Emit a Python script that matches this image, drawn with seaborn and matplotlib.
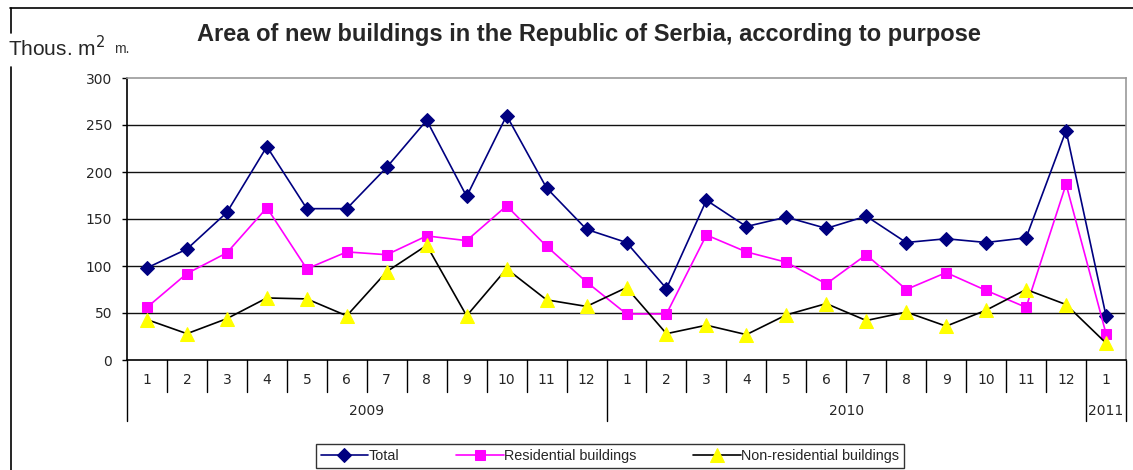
import numpy as np
import pandas as pd
import matplotlib
matplotlib.use("Agg")
import matplotlib.pyplot as plt
from matplotlib.lines import Line2D
import seaborn as sns

months = ["1", "2", "3", "4", "5", "6", "7", "8", "9", "10", "11", "12",
          "1", "2", "3", "4", "5", "6", "7", "8", "9", "10", "11", "12", "1"]
years = ["2009", "2010", "2011"]
year_spans = [12, 12, 1]

total = [98, 118, 157, 227, 161, 161, 205, 255, 174, 260, 183, 139,
         125, 76, 170, 142, 152, 140, 153, 125, 129, 125, 130, 244, 47]
residential = [56, 92, 114, 162, 97, 115, 112, 132, 127, 164, 121, 83,
               49, 49, 133, 115, 104, 81, 112, 75, 93, 74, 56, 187, 28]
non_residential = [43, 28, 44, 66, 65, 47, 94, 122, 47, 97, 64, 57,
                   77, 28, 37, 27, 48, 60, 42, 51, 36, 53, 75, 59, 18]

series_names = ["Total", "Residential buildings", "Non-residential buildings"]
y_ticks = [0, 50, 100, 150, 200, 250, 300]

sns.set_theme(style="white")
plt.rcParams["font.family"] = ["Liberation Sans", "DejaVu Sans"]
tick_font = ["DejaVu Sans"]

W, H = 1133, 470
fig = plt.figure(figsize=(W / 100, H / 100), dpi=100)
ax = fig.add_axes([127 / W, 1 - 360 / H, (1126 - 127) / W, 282 / H])

x = np.arange(len(months))
styles = [
    dict(color="#000080", marker="D", markersize=7, markerfacecolor="#000080", markeredgecolor="#000080"),
    dict(color="#FF00FF", marker="s", markersize=7.5, markerfacecolor="#FF00FF", markeredgecolor="#FF00FF"),
    dict(color="#000000", marker="^", markersize=9.5, markerfacecolor="#FFFF00", markeredgecolor="#FFFF00"),
]
for vals, name, st in zip([total, residential, non_residential], series_names, styles):
    sns.lineplot(x=x, y=vals, ax=ax, label=name, linewidth=1.2, zorder=3, **st)

ax.set_xlim(-0.5, len(months) - 0.5)
ax.set_ylim(0, 300)
ax.set_yticks(y_ticks)
ax.set_yticklabels([str(v) for v in y_ticks], fontsize=10, family=tick_font)
ax.tick_params(axis="y", direction="out", length=3.6, width=1, color="black", pad=7, left=True)
for v in y_ticks[1:-1]:
    ax.axhline(v, color="#111111", linewidth=1.0, zorder=1)

for side in ["top", "right"]:
    ax.spines[side].set_color("#999999")
    ax.spines[side].set_linewidth(1.2)
ax.spines["left"].set_color("black")
ax.spines["left"].set_linewidth(1.2)
ax.spines["bottom"].set_color("black")
ax.spines["bottom"].set_linewidth(1.2)

ax.set_xticks(x)
ax.set_xticklabels([])
ax.tick_params(axis="x", length=0)
ax.set_xlabel("")
ax.set_ylabel("")

trans = ax.get_xaxis_transform()
month_sep = 32 / 282
year_sep = 61 / 282
year_bounds = np.concatenate([[0], np.cumsum(year_spans)])
for i in range(len(months) + 1):
    xs = i - 0.5
    depth = year_sep if i in year_bounds else month_sep
    ax.add_line(Line2D([xs, xs], [0, -depth], transform=trans, color="black",
                       linewidth=1.0, clip_on=False))
for i, m in enumerate(months):
    ax.text(i, -20 / 282, m, transform=trans, ha="center", va="center", fontsize=10, family=tick_font)
for k, yname in enumerate(years):
    center = (year_bounds[k] + year_bounds[k + 1]) / 2 - 0.5
    ax.text(center, -51 / 282, yname, transform=trans, ha="center", va="center", fontsize=10, family=tick_font)

leg = ax.legend(loc="center", bbox_to_anchor=(610 / W, 1 - 456 / H), bbox_transform=fig.transFigure,
                ncol=3, frameon=True, fancybox=False, fontsize=10.4, handlelength=3.3,
                columnspacing=3.9, handletextpad=0.05, borderpad=0.35, borderaxespad=0)
leg.get_frame().set_edgecolor("black")
leg.get_frame().set_linewidth(1.0)

fig.text(589 / W, 1 - 34 / H, "Area of new buildings in the Republic of Serbia, according to purpose",
         ha="center", va="center", fontsize=17, fontweight="bold")
fig.text(8 / W, 1 - 48 / H, "Thous. m$^2$", ha="left", va="center", fontsize=15)
fig.text(114 / W, 1 - 49 / H, "m.", ha="left", va="center", fontsize=10, color="#333333")

fig.add_artist(Line2D([10 / W, 1.0], [1 - 8 / H, 1 - 8 / H], transform=fig.transFigure, color="black", linewidth=1.2))
fig.add_artist(Line2D([11 / W, 11 / W], [1 - 8 / H, 1 - 33 / H], transform=fig.transFigure, color="black", linewidth=1.2))
fig.add_artist(Line2D([11 / W, 11 / W], [1 - 67 / H, 0.0], transform=fig.transFigure, color="black", linewidth=1.2))

fig.savefig("out.png", dpi=100)
